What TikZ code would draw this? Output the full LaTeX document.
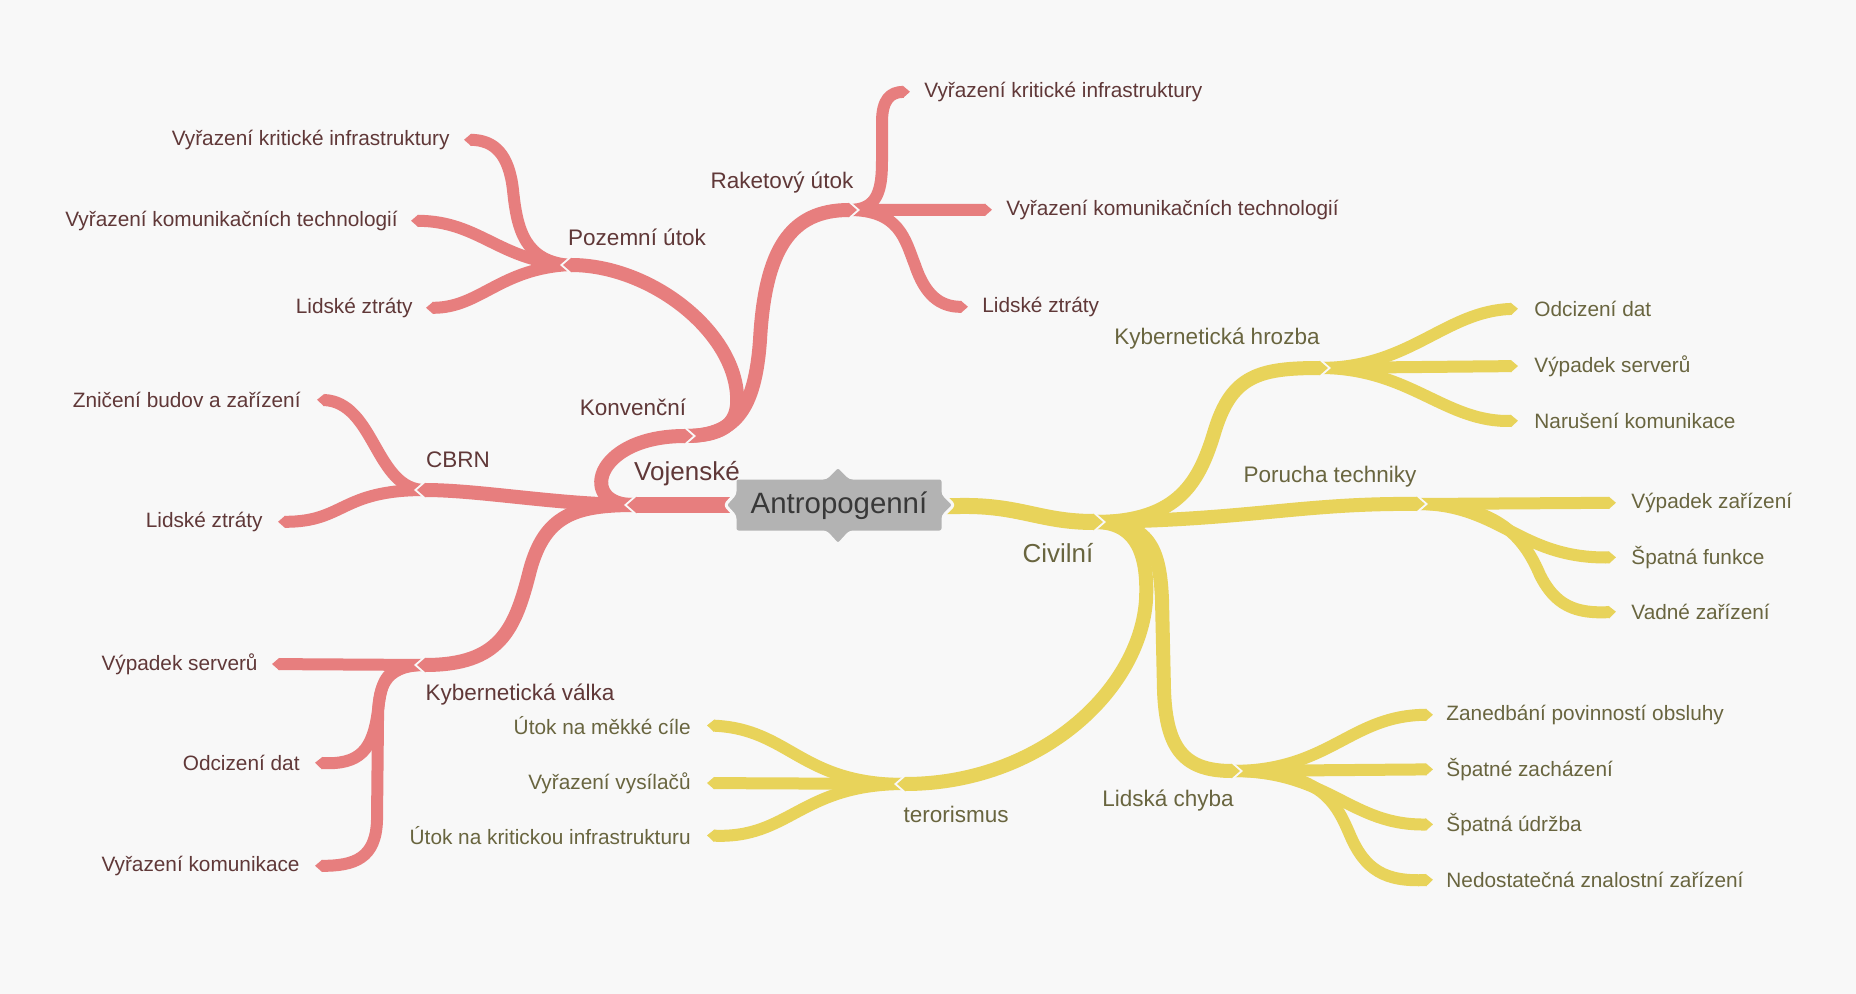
\documentclass[tikz,border=0pt]{standalone}
\usepackage{fontspec}
\setmainfont{Liberation Sans}
\usetikzlibrary{arrows.meta,calc}

\definecolor{bg}{HTML}{F8F8F8}
\definecolor{redband}{HTML}{E77E7E}
\definecolor{yelband}{HTML}{E8D35A}
\definecolor{redtext}{HTML}{603838}
\definecolor{yeltext}{HTML}{69653F}
\definecolor{hubfill}{HTML}{B3B3B3}
\definecolor{hubtext}{HTML}{383838}

\newcommand\leaffont{\fontsize{10.4pt}{12pt}\selectfont}
\newcommand\midfont{\fontsize{11.25pt}{13pt}\selectfont}
\newcommand\topfont{\fontsize{13pt}{15pt}\selectfont}
\newcommand\hubfont{\fontsize{14.7pt}{17pt}\selectfont}

\tikzset{
  tipped/.style={-{Triangle[length=0pt 0.6,width=0pt 1]}},
  rootband/.style={line width=8pt},
  midband/.style={line width=7pt},
  leafband/.style={line width=6pt, tipped},
  redb/.style={draw=redband},
  yelb/.style={draw=yelband},
  % background-coloured tip that cuts the notch into the following bands
  notch/.style={draw=bg, line width=#1, tipped},
  leafR/.style={anchor=mid west, inner sep=0pt, font=\leaffont},
  leafL/.style={anchor=mid east, inner sep=0pt, font=\leaffont},
  midlab/.style={inner sep=0pt, font=\midfont},
  toplab/.style={inner sep=0pt, font=\topfont},
  redt/.style={text=redtext},
  yelt/.style={text=yeltext},
}

\begin{document}
\begin{tikzpicture}[x=0.5pt,y=-0.5pt,line join=round]
\fill[bg] (0,0) rectangle (1856,994);
\useasboundingbox (0,0) rectangle (1856,994);

% ---------- junction points ----------
\coordinate (hubL) at (760,505);
\coordinate (hubR) at (920,506);
\coordinate (jV)  at (627,505);
\coordinate (jK)  at (693,436);
\coordinate (jP)  at (563,265);
\coordinate (jR)  at (857,210);
\coordinate (jC)  at (417,490);
\coordinate (jKV) at (417,665);
\coordinate (jCV) at (1103,522);
\coordinate (jKH) at (1328,368);
\coordinate (jPT) at (1425,504);
\coordinate (jLC) at (1240,771);
\coordinate (jT)  at (897,784);

% start points of the bands leaving each junction (inside the incoming tip)
\coordinate (sV)  at ($(jV)+(8,0)$);
\coordinate (sK)  at ($(jK)+(-8,0)$);
\coordinate (sP)  at ($(jP)+(8,0)$);
\coordinate (sR)  at ($(jR)+(-8,0)$);
\coordinate (sC)  at ($(jC)+(8,0)$);
\coordinate (sKV) at ($(jKV)+(8,0)$);
\coordinate (sCV) at ($(jCV)+(-8,0)$);
\coordinate (sKH) at ($(jKH)+(-8,0)$);
\coordinate (sPT) at ($(jPT)+(-8,0)$);
\coordinate (sLC) at ($(jLC)+(-8,0)$);
\coordinate (sT)  at ($(jT)+(8,0)$);

% ---------- leaf labels ----------
\node[leafL,redt] (p1) at (450,140) {Vyřazení kritické infrastruktury};
\node[leafL,redt] (p2) at (398,221) {Vyřazení komunikačních technologií};
\node[leafL,redt] (p3) at (413,308) {Lidské ztráty};
\node[leafR,redt] (r1) at (924,92)  {Vyřazení kritické infrastruktury};
\node[leafR,redt] (r2) at (1006,210) {Vyřazení komunikačních technologií};
\node[leafR,redt] (r3) at (982,307) {Lidské ztráty};
\node[leafL,redt] (c1) at (301,402) {Zničení budov a zařízení};
\node[leafL,redt] (c2) at (263,522) {Lidské ztráty};
\node[leafL,redt] (k1) at (258,665) {Výpadek serverů};
\node[leafL,redt] (k2) at (300,765) {Odcizení dat};
\node[leafL,redt] (k3) at (300,866) {Vyřazení komunikace};
\node[leafL,yelt] (t1) at (691,729) {Útok na měkké cíle};
\node[leafL,yelt] (t2) at (691,784) {Vyřazení vysílačů};
\node[leafL,yelt] (t3) at (691,839) {Útok na kritickou infrastrukturu};
\node[leafR,yelt] (h1) at (1534,311) {Odcizení dat};
\node[leafR,yelt] (h2) at (1534,367) {Výpadek serverů};
\node[leafR,yelt] (h3) at (1534,423) {Narušení komunikace};
\node[leafR,yelt] (f1) at (1631,503) {Výpadek zařízení};
\node[leafR,yelt] (f2) at (1631,559) {Špatná funkce};
\node[leafR,yelt] (f3) at (1631,614) {Vadné zařízení};
\node[leafR,yelt] (l1) at (1446,715) {Zanedbání povinností obsluhy};
\node[leafR,yelt] (l2) at (1446,771) {Špatné zacházení};
\node[leafR,yelt] (l3) at (1446,826) {Špatná údržba};
\node[leafR,yelt] (l4) at (1446,882) {Nedostatečná znalostní zařízení};

% ---------- leaf bands ----------
% Pozemní útok
\draw[redb,leafband] (sP) .. controls (525,262) and (517,230) .. (513,190)
   .. controls (509,155) and (495,140) .. ($(p1.east)+(14,0)$);
\draw[redb,leafband] (sP) .. controls (500,262) and (480,221) .. ($(p2.east)+(13,0)$);
\draw[redb,leafband] (sP) .. controls (500,268) and (480,308) .. ($(p3.east)+(13,0)$);
% Raketový útok
\draw[redb,leafband] (sR) .. controls (878,210) and (882,190) .. (882,160)
   -- (882,122) .. controls (882,100) and (890,92) .. ($(r1.west)+(-14,0)$);
\draw[redb,leafband] (sR) -- ($(r2.west)+(-14,0)$);
\draw[redb,leafband] (sR) .. controls (900,210) and (905,240) .. (915,265)
   .. controls (925,295) and (940,307) .. ($(r3.west)+(-14,0)$);
% CBRN
\draw[redb,leafband] (sC) .. controls (375,490) and (375,402) .. ($(c1.east)+(16,0)$);
\draw[redb,leafband] (sC) .. controls (340,490) and (345,522) .. ($(c2.east)+(15,0)$);
% Kybernetická válka
\draw[redb,leafband] (sKV) -- ($(k1.east)+(14,0)$);
\draw[redb,leafband] (sKV) .. controls (385,665) and (382,680) .. (378,710)
   .. controls (373,750) and (360,765) .. ($(k2.east)+(15,0)$);
\draw[redb,leafband] (sKV) .. controls (382,665) and (378,690) .. (378,720)
   -- (377,820) .. controls (376,858) and (355,866) .. ($(k3.east)+(15,0)$);
% terorismus
\draw[yelb,leafband] (sT) .. controls (800,784) and (790,729) .. ($(t1.east)+(16,0)$);
\draw[yelb,leafband] (sT) -- ($(t2.east)+(16,0)$);
\draw[yelb,leafband] (sT) .. controls (800,784) and (790,839) .. ($(t3.east)+(16,0)$);
% Kybernetická hrozba
\draw[yelb,leafband] (sKH) .. controls (1410,368) and (1445,311) .. ($(h1.west)+(-16,0)$);
\draw[yelb,leafband] (sKH) -- ($(h2.west)+(-16,0)$);
\draw[yelb,leafband] (sKH) .. controls (1410,368) and (1445,423) .. ($(h3.west)+(-16,0)$);
% Porucha techniky
\draw[yelb,leafband] (sPT) -- ($(f1.west)+(-15,0)$);
\draw[yelb,leafband] (sPT) .. controls (1500,504) and (1520,559) .. ($(f2.west)+(-15,0)$);
\draw[yelb,leafband] (sPT) .. controls (1500,504) and (1525,540) .. (1540,575)
   .. controls (1555,605) and (1575,614) .. ($(f3.west)+(-15,0)$);
% Lidská chyba
\draw[yelb,leafband] (sLC) .. controls (1330,771) and (1350,715) .. ($(l1.west)+(-13,0)$);
\draw[yelb,leafband] (sLC) -- ($(l2.west)+(-13,0)$);
\draw[yelb,leafband] (sLC) .. controls (1330,771) and (1350,826) .. ($(l3.west)+(-13,0)$);
\draw[yelb,leafband] (sLC) .. controls (1320,771) and (1335,800) .. (1350,835)
   .. controls (1365,870) and (1385,882) .. ($(l4.west)+(-13,0)$);

% ---------- third level (Pozemní útok, Raketový útok) ----------
\draw[notch=8.5pt] ($(jP)+(24,0)$) -- ($(jP)+(-3,0)$);
\draw[redb,midband,tipped] (sK) .. controls (728,436) and (739,420) .. (737,395)
   .. controls (733,330) and (650,265) .. (jP);
\draw[notch=8.5pt] ($(jR)+(-24,0)$) -- ($(jR)+(3,0)$);
\draw[redb,midband,tipped] (sK) .. controls (735,436) and (755,410) .. (760,340)
   .. controls (765,250) and (790,210) .. (jR);

% ---------- second level ----------
\draw[notch=8.5pt] ($(jK)+(-24,0)$) -- ($(jK)+(3,0)$);
\draw[redb,midband,tipped] (sV) .. controls (578,507) and (592,436) .. (jK);
\draw[notch=8.5pt] ($(jC)+(24,0)$) -- ($(jC)+(-3,0)$);
\draw[redb,midband,tipped] (sV) .. controls (560,505) and (480,490) .. (jC);
\draw[notch=8.5pt] ($(jKV)+(24,0)$) -- ($(jKV)+(-3,0)$);
\draw[redb,midband,tipped] (sV) .. controls (575,505) and (545,515) .. (530,570)
   .. controls (515,630) and (500,665) .. (jKV);

\draw[notch=8.5pt] ($(jKH)+(-24,0)$) -- ($(jKH)+(3,0)$);
\draw[yelb,midband,tipped] (sCV) .. controls (1180,522) and (1200,480) .. (1215,430)
   .. controls (1232,375) and (1260,368) .. (jKH);
\draw[notch=8.5pt] ($(jPT)+(-24,0)$) -- ($(jPT)+(3,0)$);
\draw[yelb,midband,tipped] (sCV) .. controls (1250,520) and (1300,503) .. (jPT);
\draw[notch=8.5pt] ($(jLC)+(-24,0)$) -- ($(jLC)+(3,0)$);
\draw[yelb,midband,tipped] (sCV) .. controls (1150,522) and (1160,550) .. (1162,600)
   -- (1164,690) .. controls (1166,750) and (1185,771) .. (jLC);
\draw[notch=8.5pt] ($(jT)+(24,0)$) -- ($(jT)+(-3,0)$);
\draw[yelb,midband,tipped] (sCV) .. controls (1140,522) and (1148,560) .. (1146,600)
   .. controls (1140,690) and (1040,784) .. (jT);

% ---------- main branches ----------
\draw[notch=9.5pt] ($(jV)+(24,0)$) -- ($(jV)+(-3,0)$);
\draw[redb,rootband,tipped] (hubL) -- (jV);
\draw[notch=9.5pt] ($(jCV)+(-24,0)$) -- ($(jCV)+(3,0)$);
\draw[yelb,rootband,tipped] (hubR) -- (960,506)
   .. controls (1020,505) and (1040,522) .. (jCV);

% ---------- central topic ----------
\path[fill=hubfill, draw=bg, line width=1.5pt, rounded corners=1.5pt]
  (735,478) -- (826,478) -- (838,466) -- (850,478) -- (943,478) -- (943,494)
  -- (954,505) -- (943,516) -- (943,532) -- (850,532) -- (838,545) -- (826,532)
  -- (735,532) -- (735,516) -- (725,505) -- (735,494) -- cycle;
\node[inner sep=0pt, font=\hubfont, text=hubtext] (hub) at (839,506) {Antropogenní};

% ---------- branch labels ----------
\node[toplab,redt] (voj) at (687,474) {Vojenské};
\node[midlab,redt] (konv) at (633,407) {Konvenční};
\node[midlab,redt] (poz) at (637,237) {Pozemní útok};
\node[midlab,redt] (rak) at (782,183) {Raketový útok};
\node[midlab,redt] (cbrn) at (458,460) {CBRN};
\node[midlab,redt] (kybv) at (520,695) {Kybernetická válka};
\node[toplab,yelt] (civ) at (1058,553) {Civilní};
\node[midlab,yelt] (kybh) at (1217,339) {Kybernetická hrozba};
\node[midlab,yelt] (por) at (1330,477) {Porucha techniky};
\node[midlab,yelt] (lch) at (1168,801) {Lidská chyba};
\node[midlab,yelt] (ter) at (956,814) {terorismus};
\end{tikzpicture}
\end{document}
